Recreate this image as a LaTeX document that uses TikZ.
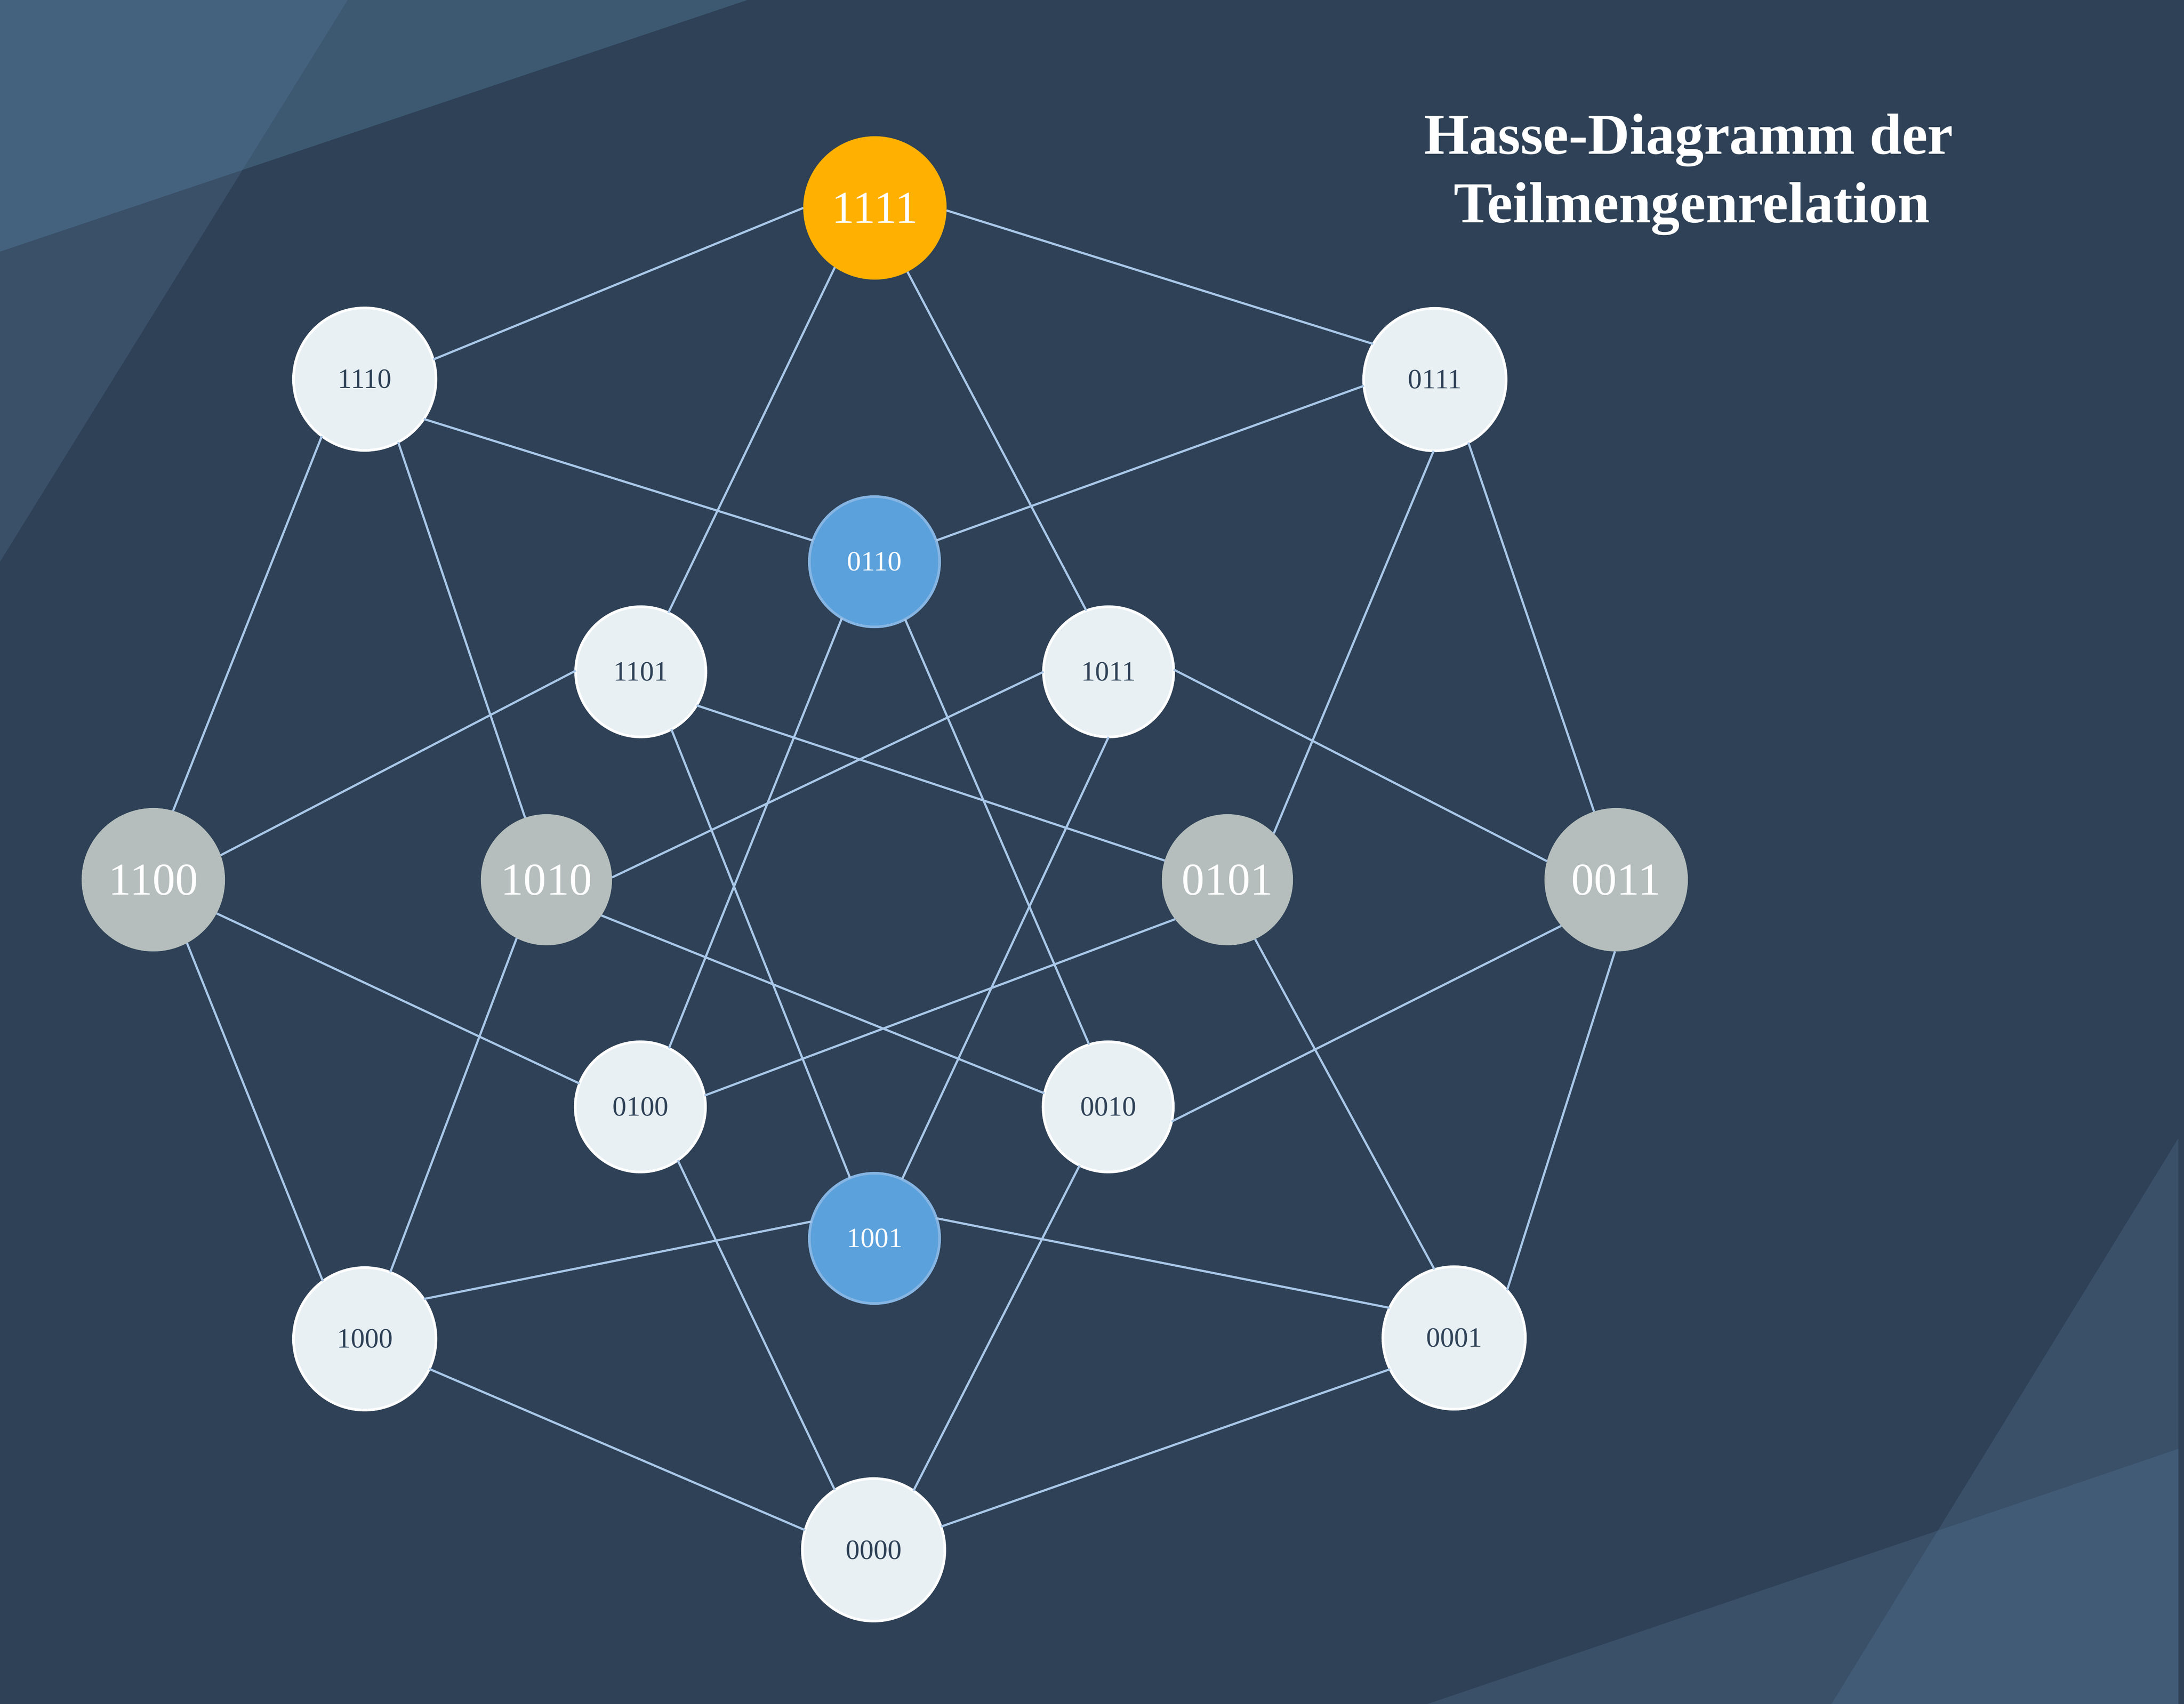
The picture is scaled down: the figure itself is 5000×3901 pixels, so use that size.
\documentclass[tikz,border=0pt]{standalone}
\usepackage{fontspec}
\setmainfont{Liberation Serif}
\definecolor{bgbase}{HTML}{2E4156}
\definecolor{bgA}{HTML}{3D5972}
\definecolor{bgB}{HTML}{3A5068}
\definecolor{bgAB}{HTML}{44627E}
\definecolor{bgC}{HTML}{3A5068}
\definecolor{bgCD}{HTML}{415B77}
\definecolor{edgecol}{HTML}{A9C7E8}
\definecolor{lightfill}{HTML}{E8F0F4}
\definecolor{bluefill}{HTML}{5BA1DC}
\definecolor{blueborder}{HTML}{86B5E3}
\definecolor{grayfill}{HTML}{B5BEBC}
\definecolor{orangefill}{HTML}{FFB000}
\definecolor{darktext}{HTML}{2E4156}
\tikzset{
  vbase/.style={circle, inner sep=0pt, outer sep=0pt, font=\fontsize{18.2}{20}\selectfont},
  outer/.style={minimum size=3.26cm},
  inner/.style={minimum size=2.98cm},
  outerfill/.style={minimum size=3.28cm},
  innerfill/.style={minimum size=3.0cm},
  lightnode/.style={vbase, fill=lightfill, draw=white, line width=1.7pt, text=darktext},
  bluenode/.style={vbase, fill=bluefill, draw=blueborder, line width=1.7pt, text=white},
  graynode/.style={vbase, fill=grayfill, text=white, font=\fontsize{29.6}{32}\selectfont},
  topnode/.style={vbase, fill=orangefill, text=white, font=\fontsize{29.6}{32}\selectfont},
  link/.style={draw=edgecol, line width=1.4pt},
  titletext/.style={text=white, font=\bfseries\fontsize{37.7}{44}\selectfont, inner sep=0pt, anchor=base}
}
\begin{document}
\begin{tikzpicture}[x=0.01cm, y=-0.01cm]
\useasboundingbox (0,0) rectangle (5000,3901);
\fill[bgbase] (0,0) rectangle (5000,3901);
% top-left decoration
\fill[bgA] (0,0) -- (1711,0) -- (0,576) -- cycle;
\fill[bgB] (0,0) -- (796,0) -- (0,1286) -- cycle;
\begin{scope}
  \clip (0,0) -- (796,0) -- (0,1286) -- cycle;
  \fill[bgAB] (0,0) -- (1711,0) -- (0,576) -- cycle;
\end{scope}
% bottom-right decoration
\fill[bgC] (4987,2606) -- (4987,3901) -- (4193,3901) -- cycle;
\fill[bgC] (4987,3317) -- (4987,3901) -- (3268,3901) -- cycle;
\begin{scope}
  \clip (4987,2606) -- (4987,3901) -- (4193,3901) -- cycle;
  \fill[bgCD] (4987,3317) -- (4987,3901) -- (3268,3901) -- cycle;
\end{scope}

% title
\node[titletext] (title1) at (3866,353) {Hasse-Diagramm der};
\node[titletext] (title2) at (3873,510) {Teilmengenrelation};

% nodes
\node[topnode, outerfill] (n1111) at (2003,476) {1111};
\node[lightnode, outer] (n1110) at (835,868) {1110};
\node[lightnode, outer] (n0111) at (3285,869) {0111};
\node[bluenode, inner] (n0110) at (2002,1286) {0110};
\node[lightnode, inner] (n1101) at (1467,1538) {1101};
\node[lightnode, inner] (n1011) at (2538,1538) {1011};
\node[graynode, outerfill] (n1100) at (351,2014) {1100};
\node[graynode, innerfill] (n1010) at (1251,2014) {1010};
\node[graynode, innerfill] (n0101) at (2810,2014) {0101};
\node[graynode, outerfill] (n0011) at (3700,2014) {0011};
\node[lightnode, inner] (n0100) at (1466,2534) {0100};
\node[lightnode, inner] (n0010) at (2537,2534) {0010};
\node[bluenode, inner] (n1001) at (2002,2835) {1001};
\node[lightnode, outer] (n1000) at (835,3065) {1000};
\node[lightnode, outer] (n0001) at (3329,3063) {0001};
\node[lightnode, outer] (n0000) at (2000,3548) {0000};

% edges (node.angle -- node.angle)
\foreach \a/\p/\b/\q in {
  n1111/180/n1110/16, n1111/358/n0111/150, n1111/236/n1101/65, n1111/297/n1011/110,
  n1110/233/n1100/74, n1110/298/n1010/109, n1110/326/n0110/161,
  n0111/185/n0110/19, n0111/269/n0101/45, n0111/298/n0011/108,
  n1101/179/n1100/20, n1101/329/n0101/163, n1101/298/n1001/112,
  n1011/180/n1010/2, n1011/2/n0011/165, n1011/270/n1001/65,
  n0110/240/n0100/64, n0110/298/n0010/107,
  n1100/298/n1000/126, n1100/332/n0100/159,
  n1010/243/n1000/69, n1010/327/n0010/168,
  n0101/217/n0100/10, n0101/295/n0001/106,
  n0011/220/n0010/347, n0011/269/n0001/42,
  n1001/165/n1000/34, n1001/18/n0001/155,
  n0100/305/n0000/123, n0010/244/n0000/56,
  n1000/335/n0000/164, n0001/206/n0000/19}
  \draw[link] (\a.\p) -- (\b.\q);
\end{tikzpicture}
\end{document}
